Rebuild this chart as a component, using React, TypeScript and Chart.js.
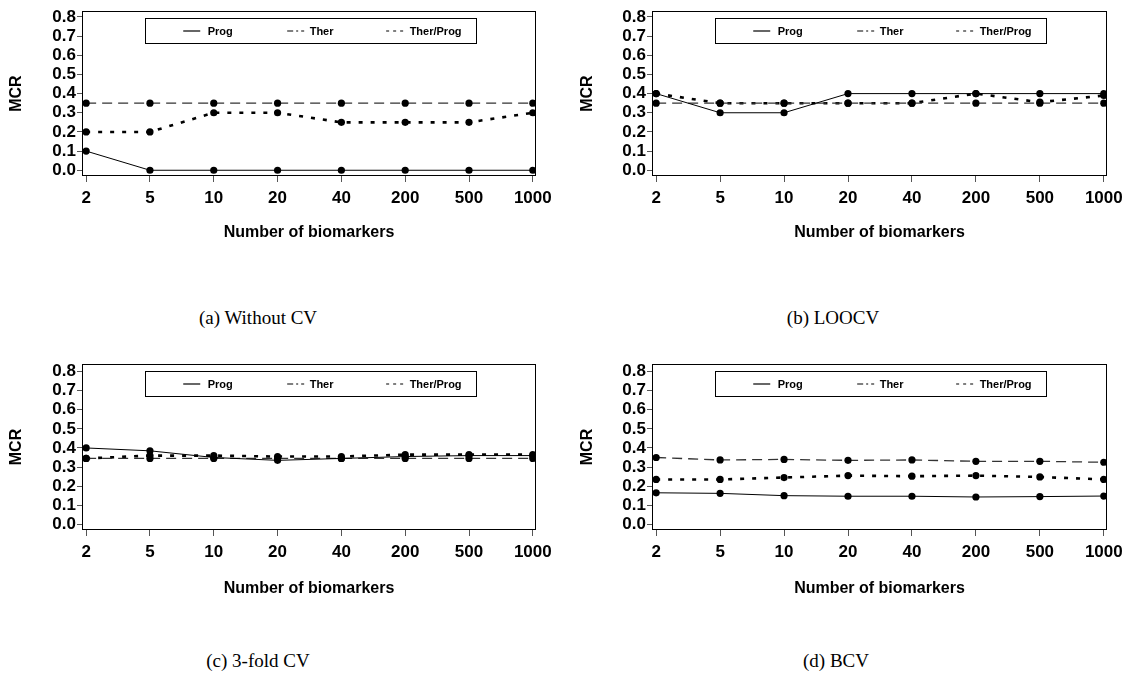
import React, { useEffect, useRef } from "react";
import { Chart, registerables } from "chart.js";

Chart.register(...registerables);

// ---------- data ----------
const biomarkerCounts = ["2", "5", "10", "20", "40", "200", "500", "1000"];
const yTickValues = [0, 0.1, 0.2, 0.3, 0.4, 0.5, 0.6, 0.7, 0.8];
const seriesNames = ["Prog", "Ther", "Ther/Prog"];

const progWithoutCV = [0.1, 0.0, 0.0, 0.0, 0.0, 0.0, 0.0, 0.0];
const therWithoutCV = [0.35, 0.35, 0.35, 0.35, 0.35, 0.35, 0.35, 0.35];
const therProgWithoutCV = [0.2, 0.2, 0.3, 0.3, 0.25, 0.25, 0.25, 0.3];

const progLOOCV = [0.4, 0.3, 0.3, 0.4, 0.4, 0.4, 0.4, 0.4];
const therLOOCV = [0.35, 0.35, 0.35, 0.35, 0.35, 0.35, 0.35, 0.35];
const therProgLOOCV = [0.4, 0.35, 0.35, 0.35, 0.35, 0.4, 0.355, 0.39];

const prog3Fold = [0.4, 0.385, 0.35, 0.335, 0.345, 0.355, 0.36, 0.36];
const ther3Fold = [0.345, 0.345, 0.345, 0.345, 0.345, 0.345, 0.345, 0.345];
const therProg3Fold = [0.345, 0.36, 0.36, 0.355, 0.355, 0.365, 0.365, 0.365];

const progBCV = [0.165, 0.162, 0.15, 0.147, 0.147, 0.143, 0.145, 0.148];
const therBCV = [0.35, 0.337, 0.34, 0.335, 0.337, 0.33, 0.33, 0.325];
const therProgBCV = [0.235, 0.235, 0.245, 0.255, 0.252, 0.255, 0.248, 0.235];

const captions = ["(a) Without CV", "(b) LOOCV", "(c) 3-fold CV", "(d) BCV"];

// ---------- styles ----------
const lineStyles = [
  { color: "#000000", width: 1, dash: [] as number[] },
  { color: "#333333", width: 1.3, dash: [10, 6] },
  { color: "#000000", width: 2.6, dash: [4, 8] },
];
const legendSampleDash = [[] as number[], [6, 3, 2, 3], [3, 4]];

const TICK_FONT = { family: "'Liberation Sans', Arial, sans-serif", size: 17, weight: "bold" as const };
const TITLE_FONT = { family: "'Liberation Sans', Arial, sans-serif", size: 16, weight: "bold" as const };

type Panel = {
  left: number; top: number; width: number; height: number;
  yAxisWidth: number; xAxisHeight: number; padTop: number; padRight: number;
  yTitlePad: number; tickPad: number; yMax: number;
  series: number[][];
};

const panels: Panel[] = [
  { left: 0, top: 0, width: 560, height: 246, yAxisWidth: 82, xAxisHeight: 70, padTop: 10, padRight: 24, yTitlePad: 7, tickPad: 6, yMax: 0.83,
    series: [progWithoutCV, therWithoutCV, therProgWithoutCV] },
  { left: 565, top: 0, width: 566, height: 246, yAxisWidth: 87, xAxisHeight: 70, padTop: 10, padRight: 24, yTitlePad: 13, tickPad: 6, yMax: 0.83,
    series: [progLOOCV, therLOOCV, therProgLOOCV] },
  { left: 0, top: 350, width: 560, height: 252, yAxisWidth: 82, xAxisHeight: 72, padTop: 14, padRight: 24, yTitlePad: 7, tickPad: 6, yMax: 0.84,
    series: [prog3Fold, ther3Fold, therProg3Fold] },
  { left: 565, top: 350, width: 566, height: 252, yAxisWidth: 87, xAxisHeight: 72, padTop: 14, padRight: 24, yTitlePad: 13, tickPad: 6, yMax: 0.84,
    series: [progBCV, therBCV, therProgBCV] },
];

const captionPos = [
  { x: 258, y: 318 },
  { x: 833, y: 318 },
  { x: 258, y: 661 },
  { x: 836, y: 661 },
];

const frameLegendPlugin = {
  id: "frameLegend",
  afterDraw(chart: any) {
    const { ctx, chartArea } = chart;
    const l = Math.round(chartArea.left) + 0.5;
    const t = Math.round(chartArea.top) + 0.5;
    const r = Math.round(chartArea.right) - 0.5;
    const b = Math.round(chartArea.bottom) - 0.5;
    ctx.save();
    ctx.strokeStyle = "#000";
    ctx.lineWidth = 1;
    ctx.setLineDash([]);
    ctx.strokeRect(l, t, r - l, b - t);

    // legend box
    const bx = Math.round(chartArea.left) + 63 + 0.5;
    const by = Math.round(chartArea.top) + 7 + 0.5;
    const bw = 331;
    const bh = 25;
    ctx.fillStyle = "#fff";
    ctx.fillRect(bx, by, bw, bh);
    ctx.strokeRect(bx, by, bw, bh);
    const cy = by + bh / 2;
    const sampleStart = [0.114, 0.428, 0.727];
    const textStart = [0.188, 0.496, 0.798];
    ctx.font = "bold 11px 'Liberation Sans', Arial, sans-serif";
    ctx.textBaseline = "middle";
    ctx.textAlign = "left";
    for (let i = 0; i < seriesNames.length; i++) {
      const sx = bx + bw * sampleStart[i];
      ctx.beginPath();
      ctx.setLineDash(legendSampleDash[i]);
      ctx.lineWidth = 1.2;
      ctx.strokeStyle = "#000";
      ctx.moveTo(sx, cy);
      ctx.lineTo(sx + 17, cy);
      ctx.stroke();
      ctx.setLineDash([]);
      ctx.fillStyle = "#000";
      ctx.fillText(seriesNames[i], bx + bw * textStart[i], cy + 1);
    }
    ctx.restore();
  },
};

function PanelChart({ panel }: { panel: Panel }) {
  const ref = useRef<HTMLCanvasElement>(null);
  useEffect(() => {
    if (!ref.current) return;
    const datasets = panel.series.map((vals, si) => ({
      label: seriesNames[si],
      data: vals.map((y, i) => ({ x: i, y })),
      borderColor: lineStyles[si].color,
      borderWidth: lineStyles[si].width,
      borderDash: lineStyles[si].dash,
      backgroundColor: "#000",
      pointBackgroundColor: "#000",
      pointBorderColor: "#000",
      pointRadius: 3.6,
      pointBorderWidth: 0,
      tension: 0,
      fill: false,
    }));
    const chart = new Chart(ref.current, {
      type: "line",
      data: { datasets },
      plugins: [frameLegendPlugin],
      options: {
        animation: false,
        responsive: false,
        maintainAspectRatio: false,
        events: [],
        layout: { padding: { left: 0, right: panel.padRight, top: panel.padTop, bottom: 0 } },
        plugins: { legend: { display: false }, tooltip: { enabled: false }, title: { display: false } },
        scales: {
          x: {
            type: "linear",
            min: -0.065,
            max: 7.05,
            afterBuildTicks: (scale: any) => {
              scale.ticks = biomarkerCounts.map((_, i) => ({ value: i }));
            },
            afterFit: (scale: any) => {
              scale.height = panel.xAxisHeight;
            },
            ticks: {
              autoSkip: false,
              maxRotation: 0,
              padding: panel.tickPad,
              color: "#000",
              font: TICK_FONT,
              callback: (v: any) => biomarkerCounts[Math.round(v)],
            },
            grid: { display: true, drawOnChartArea: false, drawTicks: true, tickLength: 6, color: "#555", lineWidth: 1 },
            border: { display: false },
            title: { display: true, text: "Number of biomarkers", color: "#000", font: TITLE_FONT, padding: { top: 4, bottom: 4 } },
          },
          y: {
            type: "linear",
            min: -0.03,
            max: panel.yMax,
            afterBuildTicks: (scale: any) => {
              scale.ticks = yTickValues.map((v) => ({ value: v }));
            },
            afterFit: (scale: any) => {
              scale.width = panel.yAxisWidth;
            },
            ticks: {
              autoSkip: false,
              padding: 1,
              color: "#000",
              font: TICK_FONT,
              callback: (v: any) => Number(v).toFixed(1),
            },
            grid: { display: true, drawOnChartArea: false, drawTicks: true, tickLength: 5, color: "#555", lineWidth: 1 },
            border: { display: false },
            title: { display: true, text: "MCR", color: "#000", font: TITLE_FONT, padding: { top: panel.yTitlePad, bottom: 4 } },
          },
        },
      } as any,
    });
    return () => chart.destroy();
  }, [panel]);
  return (
    <canvas
      ref={ref}
      width={panel.width}
      height={panel.height}
      style={{ position: "absolute", left: panel.left, top: panel.top, width: panel.width, height: panel.height }}
    />
  );
}

export default function App() {
  useEffect(() => {
    document.body.style.margin = "0";
  }, []);
  return (
    <div style={{ position: "absolute", left: 0, top: 0, width: 1131, height: 686, background: "#fff", overflow: "hidden" }}>
      {panels.map((p, i) => (
        <PanelChart key={i} panel={p} />
      ))}
      {captions.map((c, i) => (
        <div
          key={c}
          style={{
            position: "absolute",
            left: captionPos[i].x - 150,
            top: captionPos[i].y - 13,
            width: 300,
            textAlign: "center",
            fontFamily: "'Liberation Serif', 'Times New Roman', serif",
            fontSize: 19,
            lineHeight: "26px",
            color: "#000",
          }}
        >
          {c}
        </div>
      ))}
    </div>
  );
}
